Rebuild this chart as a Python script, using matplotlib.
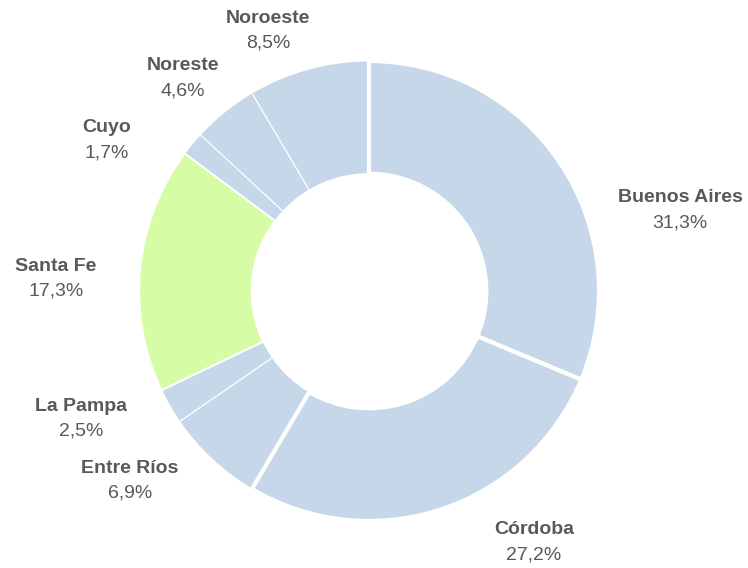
import matplotlib
matplotlib.use('Agg')
import matplotlib.pyplot as plt

# datos
regiones = ['Buenos Aires', 'Córdoba', 'Entre Ríos', 'La Pampa',
            'Santa Fe', 'Cuyo', 'Noreste', 'Noroeste']
porcentajes = [31.3, 27.2, 6.9, 2.5, 17.3, 1.7, 4.6, 8.5]
etiquetas = ['31,3%', '27,2%', '6,9%', '2,5%', '17,3%', '1,7%', '4,6%', '8,5%']

# estilo
azul = '#C5D7E8'
verde = '#D6FCA6'
colores = [verde if r == 'Santa Fe' else azul for r in regiones]
bordes = [3.0, 3.0, 0.8, 0.8, 1.5, 0.8, 0.8, 0.8]
gris = '#595959'

# posiciones de las etiquetas (pixeles, centro del bloque de texto)
pos_etq = [(680, 210), (534, 542), (130, 481), (81, 419),
           (56, 279), (107, 140), (183, 78), (268, 31)]

W, H = 748, 568
cx, cy, R = 369, 291, 230

plt.rcParams['font.family'] = ['Liberation Sans', 'DejaVu Sans']

fig = plt.figure(figsize=(W / 100, H / 100), dpi=100)
ax = fig.add_axes([0, 0, 1, 1])

wedges, _ = ax.pie(porcentajes, colors=colores, startangle=90, counterclock=False,
                   radius=1, wedgeprops=dict(width=0.49, edgecolor='white'))
for w, lw in zip(wedges, bordes):
    w.set_linewidth(lw)
    w.set_zorder(2 + lw)

ax.set_aspect('auto')
ax.set_xlim(-cx / R, (W - cx) / R)
ax.set_ylim(-(H - cy) / R, cy / R)
ax.axis('off')

for reg, et, (px, py) in zip(regiones, etiquetas, pos_etq):
    fx, fy = px / W, 1 - py / H
    fig.text(fx, fy + 12.5 / H, reg, ha='center', va='center', fontsize=14,
             fontweight='bold', color=gris)
    fig.text(fx, fy - 12.5 / H, et, ha='center', va='center', fontsize=14,
             color=gris)

fig.savefig('out.png', dpi=100)
